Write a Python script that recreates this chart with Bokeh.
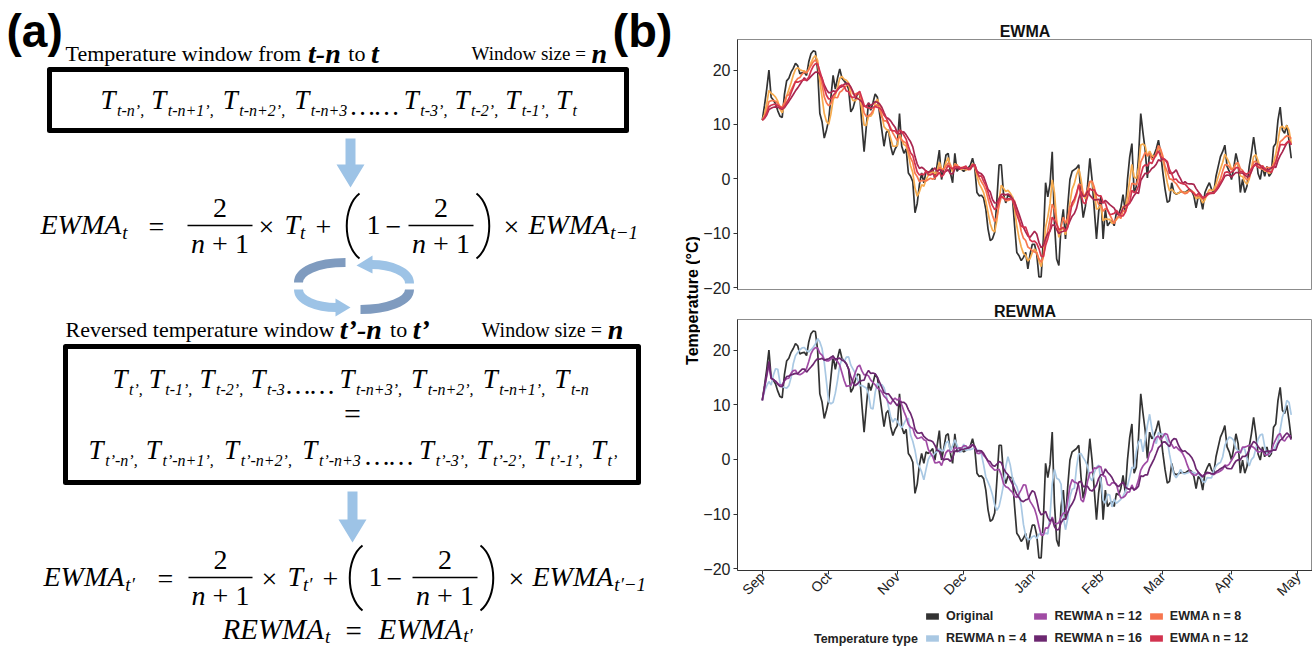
import math
from bokeh.plotting import figure
from bokeh.layouts import row, column
from bokeh.models import ColumnDataSource, FixedTicker, Legend, LegendItem, Range1d
from bokeh.core.properties import value
from bokeh.embed import file_html
from bokeh.resources import INLINE

# ---------------- DATA ----------------
original = [
    10.8, 13.5, 16.5, 20.0, 15.0, 14.5, 13.8, 12.5, 11.5, 11.3,
    15.5, 18.0, 18.5, 19.6, 20.3, 21.2, 20.8, 19.3, 19.5, 19.6,
    19.0, 21.5, 23.0, 23.5, 23.4, 20.0, 12.0, 10.5, 7.5, 9.0,
    10.8, 15.0, 19.0, 16.5, 18.5, 20.2, 18.5, 18.0, 17.5, 16.5,
    12.3, 13.0, 14.5, 15.6, 15.5, 10.0, 5.0, 9.6, 14.0, 12.6,
    14.0, 15.6, 15.0, 12.0, 9.0, 6.0, 8.5, 9.0, 6.0, 4.4,
    5.5, 6.2, 12.0, 6.0, 4.7, 5.5, 1.1, 0.5, -0.5, -6.2,
    -4.5, -1.0, 1.1, -0.7, 1.4, 1.1, 1.5, 2.0, -0.1, 2.6,
    5.3, -0.1, 2.0, 4.4, 4.7, 1.1, -0.7, 4.7, 1.4, 2.0,
    1.8, 1.4, 1.7, 2.0, 2.5, 3.8, 2.0, -2.5, -3.1, -3.0,
    -3.5, -5.6, -9.2, -11.3, -11.0, -9.8, -3.8, 2.6, 2.6, -2.8,
    -4.4, -3.0, -3.3, -3.3, -8.6, -13.5, -14.1, -15.0, -14.4, -13.5,
    -16.5, -13.8, -12.0, -12.0, -13.8, -18.0, -18.0, -11.0, -0.7, -3.3,
    -0.9, 5.0, -8.0, -14.7, -15.9, -8.6, -5.6, -11.0, -5.0, -0.1,
    1.4, 1.7, 2.0, 2.6, -3.2, -7.1, -5.0, -1.0, 3.8, -0.1,
    -5.6, -11.0, -6.0, -3.2, -11.0, -5.6, -8.6, -8.0, -7.7, -8.6,
    -6.2, -6.5, -5.3, -2.9, -6.0, -0.1, 4.0, 6.5, -2.5, -1.4,
    4.1, 12.0, 8.5, 5.3, 0.2, 5.0, 3.8, 4.4, 5.5, 7.1,
    4.7, 1.1, -1.9, -4.3, -4.0, -0.7, -2.5, -2.8, -2.6, -2.4,
    -2.4, -2.5, -2.2, -1.9, -2.2, -3.1, -5.3, -3.1, -3.6, -5.6,
    -2.5, -1.5, -0.7, -1.9, -2.5, 0.5, 2.3, 4.1, 5.0, 6.2,
    2.3, 1.4, -0.1, 2.0, 4.7, 2.9, -2.5, -0.1, -2.5, -1.3,
    2.3, 4.7, 7.7, 4.7, 1.0, -0.1, 2.3, 0.5, 2.3, 0.5,
    1.1, 5.9, 6.5, 10.8, 13.2, 9.0, 8.4, 9.9, 7.1, 3.8,
]
days = list(range(len(original)))          # day 0 = 1 September

ewma_windows = [4, 8, 12, 16]
ewma_colors = ["#F6AB4E", "#F7774F", "#D2334F", "#A8264F"]
rewma_windows = [4, 12, 16]
rewma_colors = ["#A9C8E3", "#A04BA4", "#6C2770"]
original_color = "#333333"

month_labels = ["Sep", "Oct", "Nov", "Dec", "Jan", "Feb", "Mar", "Apr", "May"]
month_days = [0, 30, 61, 91, 122, 153, 181, 212, 242]
y_ticks = [-20, -10, 0, 10, 20]

legend_labels = ["Original", "REWMA n = 4", "REWMA n = 12", "REWMA n = 16", "EWMA n = 8", "EWMA n = 12"]
legend_colors = ["#333333", "#A9C8E3", "#A04BA4", "#6C2770", "#F7774F", "#D2334F"]


def ewma(series, n):
    a = 2.0 / (n + 1)
    out = []
    for t in range(len(series)):
        win = series[max(0, t - n):t + 1]
        e = win[0]
        for v in win[1:]:
            e = a * v + (1 - a) * e
        out.append(e)
    return out


def rewma(series, n):
    a = 2.0 / (n + 1)
    out = []
    for t in range(len(series)):
        win = series[max(0, t - n):t + 1][::-1]
        e = win[0]
        for v in win[1:]:
            e = a * v + (1 - a) * e
        out.append(e)
    return out


src = {"day": days, "orig": original}
for n in ewma_windows:
    src[f"e{n}"] = ewma(original, n)
for n in rewma_windows:
    src[f"r{n}"] = rewma(original, n)
source = ColumnDataSource(src)

SANS = "Liberation Sans"
SERIF = "Liberation Serif"
NAN = float("nan")

# ---------------- PANEL (b) ----------------
XR = (-11.2, 248.6)
YR = (-20.3, 25.6)
RW = 612


def panel(h, top, bottom, title):
    p = figure(width=RW, height=h, x_range=Range1d(*XR), y_range=Range1d(*YR),
               toolbar_location=None, output_backend="svg",
               min_border_left=30, min_border_right=0,
               min_border_top=top, min_border_bottom=bottom, title=title)
    p.title.align = "center"
    p.title.text_font = SANS
    p.title.text_font_size = "16px"
    p.title.text_font_style = "bold"
    p.title.text_color = "#111111"
    p.title.standoff = 0
    p.xgrid.visible = False
    p.ygrid.visible = False
    p.outline_line_color = "#8c8c8c"
    p.outline_line_width = 1
    p.yaxis.ticker = FixedTicker(ticks=y_ticks)
    for ax in (p.xaxis[0], p.yaxis[0]):
        ax.axis_line_color = "#333333"
        ax.major_tick_line_color = "#333333"
        ax.major_tick_out = 4
        ax.major_tick_in = 0
        ax.minor_tick_line_color = None
        ax.major_label_text_font = SANS
        ax.major_label_text_color = "#222222"
    p.yaxis.major_label_text_font_size = "16px"
    p.xaxis.major_label_text_font_size = "14px"
    p.yaxis.major_label_standoff = 3
    return p


pe = panel(300, 39, 11, "EWMA")
pe.xaxis.visible = False
pe.line("day", "orig", source=source, line_color=original_color, line_width=1.7)
for n, c in zip(ewma_windows, ewma_colors):
    if n != 12:
        pe.line("day", f"e{n}", source=source, line_color=c, line_width=1.7)
pe.line("day", "e12", source=source, line_color=ewma_colors[2], line_width=1.7)

pr = panel(307, 19, 37, "REWMA")
pr.xaxis.ticker = FixedTicker(ticks=month_days)
pr.xaxis.major_label_overrides = {d: m for d, m in zip(month_days, month_labels)}
pr.xaxis.major_label_orientation = math.pi / 4
pr.xaxis.major_label_standoff = 0
pr.line("day", "orig", source=source, line_color=original_color, line_width=1.7)
for n, c in zip(rewma_windows, rewma_colors):
    pr.line("day", f"r{n}", source=source, line_color=c, line_width=1.7)

# legend strip
pl = figure(width=RW, height=39, x_range=(0, RW), y_range=(0, 39), toolbar_location=None,
            output_backend="svg", min_border=0, x_axis_type=None, y_axis_type=None)
pl.grid.visible = False
pl.outline_line_color = None
items = []
for lab, col in zip(legend_labels, legend_colors):
    r = pl.quad(left=[NAN], right=[NAN], top=[NAN], bottom=[NAN], fill_color=col, line_color=None)
    items.append(LegendItem(label=lab, renderers=[r]))
leg = Legend(items=items, nrows=2, orientation="vertical", location=(187, 0),
             glyph_width=16, glyph_height=8, label_standoff=6, spacing=6, padding=0,
             margin=0, label_height=16, border_line_color=None, background_fill_alpha=0,
             label_text_font=SANS, label_text_font_style="bold", label_text_font_size="12.5px",
             label_text_color="#222222")
pl.add_layout(leg, "center")
pl.text(x=[192], y=[8], text=["Temperature type"], text_align="right", text_baseline="middle",
        text_font=value(SANS), text_font_style="bold", text_font_size="12.5px",
        text_color="#222222")

# ---------------- PANEL (a) ----------------
LW = 700
pa = figure(width=LW, height=646, x_range=(0, LW), y_range=(646, 0), toolbar_location=None,
            output_backend="svg", min_border=0, x_axis_type=None, y_axis_type=None)
pa.grid.visible = False
pa.outline_line_color = None

REG = {' ': .25, ',': .25, '.': .25, '’': .333, '-': .333, '+': .564, '=': .564, '×': .564,
       '−': .564, '(': .333, ')': .333, 'T': .611, 'W': .944, 'R': .667, 'E': .611, 'M': .889,
       'A': .722, 'e': .444, 'm': .778, 'p': .5, 'r': .333, 'a': .444, 't': .278, 'u': .5,
       'w': .722, 'i': .278, 'n': .5, 'd': .5, 'o': .5, 'f': .333, 's': .389, 'z': .444,
       'v': .5, 'c': .444, 'l': .278, '…': 1.0, '′': .3}
ITA = {' ': .25, ',': .25, '.': .25, '’': .333, '-': .333, '+': .675, '=': .675, '−': .675,
       'T': .556, 'W': .833, 'R': .611, 'E': .611, 'M': .833, 'A': .611, 't': .278, 'n': .5,
       '…': .889, '′': .3}
BI = {' ': .25, 't': .30, '-': .36, 'n': .58, '’': .36}


def wid(s, size, style):
    if "bold" in style and "italic" in style:
        tab = BI
    elif "italic" in style:
        tab = ITA
    else:
        tab = REG
    return sum(tab.get(c, .5) for c in s) * size


def txt(x, y, s, size, style="normal", font=SERIF, align="left", baseline="middle",
        color="black", angle=0.0):
    pa.text(x=[x], y=[y], text=[s], text_font=value(font), text_font_size=f"{size}px",
            text_font_style=style, text_align=align, text_baseline=baseline,
            text_color=color, angle=angle)


def runs_at(x, y, runs):
    for s, size, style, dy in runs:
        core = s.strip(" ")
        lead = len(s) - len(s.lstrip(" "))
        trail = len(s) - len(s.rstrip(" "))
        sp = wid(" ", size, style)
        x += lead * sp
        if core:
            txt(x, y + dy, core, size, style)
        x += wid(core, size, style) + trail * sp
    return x


def runs_center(xc, y, runs):
    tot = sum(wid(s, size, style) for s, size, style, dy in runs)
    runs_at(xc - tot / 2, y, runs)


def tseq(x0, x1, yc, seq, main=27, sub=16, sdy=11):
    sizes = [main if k != "S" else sub for s, k in seq]
    ws = [wid(s, z, "italic") for (s, k), z in zip(seq, sizes)]
    sc = (x1 - x0) / sum(ws)
    x = x0
    for (s, k), z, w in zip(seq, sizes, ws):
        dy = sdy if k == "S" else (6 if k == "D" else 0)
        txt(x, yc + dy, s.strip(" "), z, "italic")
        x += w * sc


def frac(xc, half, bar, num, den):
    pa.segment(x0=[xc - half], y0=[bar], x1=[xc + half], y1=[bar],
               line_color="black", line_width=1.4)
    txt(xc, num, "2", 28, align="center")
    runs_center(xc, den, [("n", 28, "italic", 0), (" + ", 28, "normal", 0), ("1", 28, "normal", 0)])


def paren(x_end, x_bulge, y0, y1):
    h = y1 - y0
    pa.bezier(x0=[x_end], y0=[y0], x1=[x_end], y1=[y1], cx0=[x_bulge], cy0=[y0 + 0.2 * h],
              cx1=[x_bulge], cy1=[y1 - 0.2 * h], line_color="black", line_width=2.0)


def down_arrow(xc, y0, y1, color="#9DC3E6"):
    ym = y1 - 23
    pa.patch(x=[xc - 5, xc + 5, xc + 5, xc + 14, xc, xc - 14, xc - 5],
             y=[y0, y0, ym, ym, y1, ym, ym], fill_color=color, line_color=None)


# labels (a), (b)
txt(6, 30, "(a)", 46, "bold", SANS)
txt(612, 30, "(b)", 47, "bold", SANS)

# title line 1
runs_at(65, 53, [("Temperature window from ", 22, "normal", 0), ("t-n", 28, "bold italic", 0),
                 (" to ", 22, "normal", 0), ("t", 28, "bold italic", 0)])
runs_at(471, 53, [("Window size = ", 19, "normal", 0), ("n", 28, "bold italic", 0)])

# box 1
pa.quad(left=[49], right=[626], top=[69], bottom=[130], fill_color=None,
        line_color="black", line_width=5, line_join="round")
tseq(100, 577, 99, [("T", "M"), ("t-n’, ", "S"), ("T", "M"), ("t-n+1’, ", "S"),
                    ("T", "M"), ("t-n+2’, ", "S"), ("T", "M"), ("t-n+3", "S"), ("……", "D"),
                    ("T", "M"), ("t-3’, ", "S"), ("T", "M"), ("t-2’, ", "S"),
                    ("T", "M"), ("t-1’, ", "S"), ("T", "M"), ("t", "S")])

down_arrow(350, 138, 187)


def equation(yc, xs, prime):
    sub_t = "t′" if prime else "t"
    sub_t1 = "t′−1" if prime else "t−1"
    bar, num, den = yc + 1, yc - 17, yc + 19
    x = runs_at(xs[0], yc, [("EWMA", 28, "italic", 0)])
    runs_at(x + 1, yc, [(sub_t, 19, "italic", 8)])
    txt(xs[1], yc + 2, "=", 28)
    frac((xs[2][0] + xs[2][1]) / 2, (xs[2][1] - xs[2][0]) / 2, bar, num, den)
    txt(xs[3], yc + 2, "×", 28)
    x = runs_at(xs[4], yc, [("T", 28, "italic", 0)])
    runs_at(x, yc, [(sub_t, 19, "italic", 8)])
    txt(xs[5], yc + 2, "+", 28)
    paren(xs[6] + 14, xs[6] - 3, yc - 31, yc + 34)
    txt(xs[7], yc, "1", 28)
    txt(xs[8], yc + 2, "−", 28)
    frac((xs[9][0] + xs[9][1]) / 2, (xs[9][1] - xs[9][0]) / 2, bar, num, den)
    paren(xs[10] + 2, xs[10] + 19, yc - 31, yc + 34)
    txt(xs[11], yc + 2, "×", 28)
    x = runs_at(xs[12], yc, [("EWMA", 28, "italic", 0)])
    runs_at(x + 1, yc, [(sub_t1, 19, "italic", 8)])


equation(224, [40, 148, (187, 252), 258, 284, 315, 345, 366, 385, (408, 473), 474, 503, 528], False)

# cyclic arrows
dark, light = "#7F9BBF", "#9DC3E6"
pa.bezier(x0=[345], y0=[262], x1=[298], y1=[282], cx0=[316], cy0=[262], cx1=[298], cy1=[271],
          line_color=dark, line_width=9)
pa.bezier(x0=[298], y0=[289], x1=[336], y1=[307], cx0=[298], cy0=[300], cx1=[316], cy1=[307],
          line_color=light, line_width=9)
pa.patch(x=[335, 335, 350], y=[298, 316, 307], fill_color=light, line_color=None)
pa.bezier(x0=[409], y0=[283], x1=[371], y1=[264], cx0=[409], cy0=[271], cx1=[390], cy1=[264],
          line_color=light, line_width=9)
pa.patch(x=[372, 372, 356], y=[255, 273, 265], fill_color=light, line_color=None)
pa.bezier(x0=[409], y0=[289], x1=[360], y1=[309], cx0=[409], cy0=[301], cx1=[386], cy1=[309],
          line_color=dark, line_width=9)

# title line 2
runs_at(65, 329, [("Reversed temperature window ", 22, "normal", 0), ("t’-n", 28, "bold italic", 0),
                  (" to ", 22, "normal", 0), ("t’", 28, "bold italic", 0)])
runs_at(481, 329, [("Window size = ", 20, "normal", 0), ("n", 28, "bold italic", 0)])

# box 2
pa.quad(left=[65], right=[638], top=[346], bottom=[482], fill_color=None,
        line_color="black", line_width=5, line_join="round")
tseq(112, 590, 378, [("T", "M"), ("t’, ", "S"), ("T", "M"), ("t-1’, ", "S"), ("T", "M"),
                     ("t-2’, ", "S"), ("T", "M"), ("t-3", "S"), ("……", "D"), ("T", "M"),
                     ("t-n+3’, ", "S"), ("T", "M"), ("t-n+2’, ", "S"), ("T", "M"),
                     ("t-n+1’, ", "S"), ("T", "M"), ("t-n", "S")])
txt(352, 413, "=", 30, align="center")
tseq(88, 618, 449, [("T", "M"), ("t’-n’, ", "S"), ("T", "M"), ("t’-n+1’, ", "S"), ("T", "M"),
                    ("t’-n+2’, ", "S"), ("T", "M"), ("t’-n+3", "S"), ("……", "D"), ("T", "M"),
                    ("t’-3’, ", "S"), ("T", "M"), ("t’-2’, ", "S"), ("T", "M"),
                    ("t’-1’, ", "S"), ("T", "M"), ("t’", "S")])

down_arrow(352, 491, 542)

equation(576, [43, 157, (188, 252), 261, 287, 322, 348, 368, 386, (412, 477), 478, 508, 532], True)

x = runs_at(222, 628, [("REWMA", 29, "italic", 0)])
runs_at(x + 1, 628, [("t", 19, "italic", 8)])
txt(345, 630, "=", 29)
x = runs_at(378, 628, [("EWMA", 29, "italic", 0)])
runs_at(x + 1, 628, [("t′", 19, "italic", 7)])

# shared y-axis title of panel (b)
txt(692, 300, "Temperature (°C)", 16, "bold", SANS, align="center", angle=math.pi / 2)

layout = row(pa, column(pe, pr, pl, spacing=0), spacing=0)
open("out.html", "w").write(file_html(layout, INLINE))
